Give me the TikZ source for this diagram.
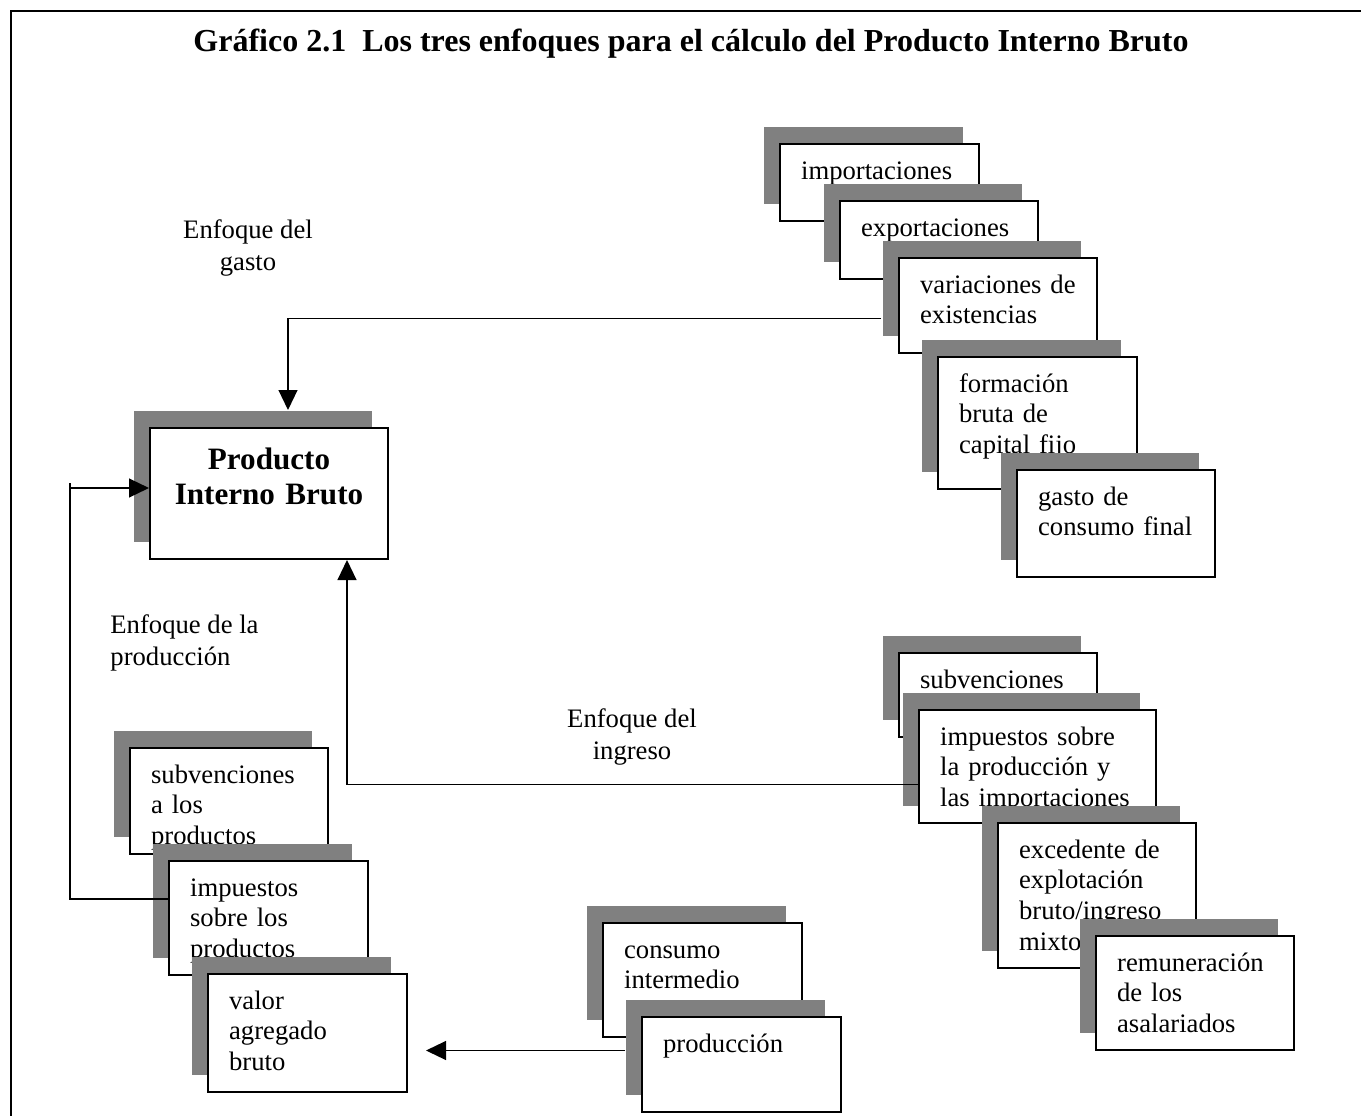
\documentclass[tikz,border=0pt]{standalone}
\usepackage{fontspec}
\setmainfont{Liberation Serif}
\usetikzlibrary{
	calc,
	shadows,
	arrows.meta}

\begin{document}
\begin{tikzpicture}[x=0.45pt,y=-0.45pt,>={Triangle[length=9pt,width=8.5pt]}]
		\tikzstyle{card}=[rectangle,draw,fill=white,line width=0.9pt,
							anchor=north west,align=left,inner xsep=9.5pt,inner ysep=5pt,
							text height=10.75pt,font=\fontsize{12}{13.8}\selectfont,
							general shadow={fill=gray,shadow xshift=-7.3pt,shadow yshift=7.6pt}]
		\tikzstyle{conn}=[line width=0.7pt]
		\tikzstyle{tag}=[inner sep=0pt,font=\fontsize{12}{14}\selectfont]

		\useasboundingbox (0,0) rectangle (1361,1116);

		% frame
		\draw [line width=1pt] (1361,11) -- (11,11) -- (11,1116);

		% title
		\node [font=\bfseries\fontsize{14.4}{16}\selectfont] (title) at (691,44)
			{Gráfico 2.1~~Los tres enfoques para el cálculo del Producto Interno Bruto};

		% PIB
		\node [card,align=center,text width=88.1pt,text height=13.5pt,text depth=35.45pt,
			font=\bfseries\fontsize{14}{16}\selectfont] (pib) at (149,427) {Producto\\Interno Bruto};

		% gasto
		\foreach \name/\x/\y/\w/\h/\txt in {
				imp/779/143/199/77/{importaciones},
				exp/839/200/198/78/{exportaciones},
				var/898/257/198/95/{variaciones de\\existencias},
				fbk/937/356/199/132/{formación\\bruta de\\capital fijo},
				gcf/1016/469/198/107/{gasto de\\consumo final}}
			{
			\pgfmathsetmacro{\tw}{0.45*\w-19}
			\pgfmathsetmacro{\dep}{0.45*\h-20.75}
			\node [card,text width=\tw pt,text depth=\dep pt] (\name) at (\x,\y) {\txt};
			}

		% ingreso
		\foreach \name/\x/\y/\w/\h/\txt in {
				sub/898/652/198/84/{subvenciones},
				imppm/918/709/237/113/{impuestos sobre\\la producción y\\las importaciones},
				exc/997/822/198/145/{excedente de\\explotación\\bruto/ingreso\\mixto},
				rem/1095/935/198/114/{remuneración\\de los\\asalariados}}
			{
			\pgfmathsetmacro{\tw}{0.45*\w-19}
			\pgfmathsetmacro{\dep}{0.45*\h-20.75}
			\node [card,text width=\tw pt,text depth=\dep pt] (\name) at (\x,\y) {\txt};
			}

		% produccion
		\foreach \name/\x/\y/\w/\h/\txt in {
				sap/129/747/198/106/{subvenciones\\a los\\productos},
				ip/168/860/199/114/{impuestos\\sobre los\\productos},
				vab/207/973/199/118/{valor\\agregado\\bruto},
				ci/602/922/199/114/{consumo\\intermedio},
				prod/641/1016/199/95/{producción}}
			{
			\pgfmathsetmacro{\tw}{0.45*\w-19}
			\pgfmathsetmacro{\dep}{0.45*\h-20.75}
			\node [card,text width=\tw pt,text depth=\dep pt] (\name) at (\x,\y) {\txt};
			}

		% labels
		\node [tag,align=center] (gastolbl) at (248,248) {Enfoque del\\gasto};
		\node [tag,align=left,anchor=west] (prodlbl) at (110,643) {Enfoque de la\\producción};
		\node [tag,align=center] (ingrlbl) at (632,737) {Enfoque del\\ingreso};

		% edges
		\draw [conn,->] ($(var.west)+(-17,13)$) -| ($(pib.north)+(19,-17)$);
		\draw [conn,->] ($(imppm.west)+(0,18)$) -| ($(pib.south)+(78,0)$);

		\coordinate (pstub) at (70,483);
		\coordinate (pcorner) at (70,488);
		\draw [conn] ($(ip.west)+(0,-19)$) -| (pstub);
		\draw [conn,->] (pcorner) -- (pcorner -| pib.west);

		\draw [conn,->] ($(prod.west)+(-16,-14)$) -- ++(-199,0);

	\end{tikzpicture}
\end{document}
